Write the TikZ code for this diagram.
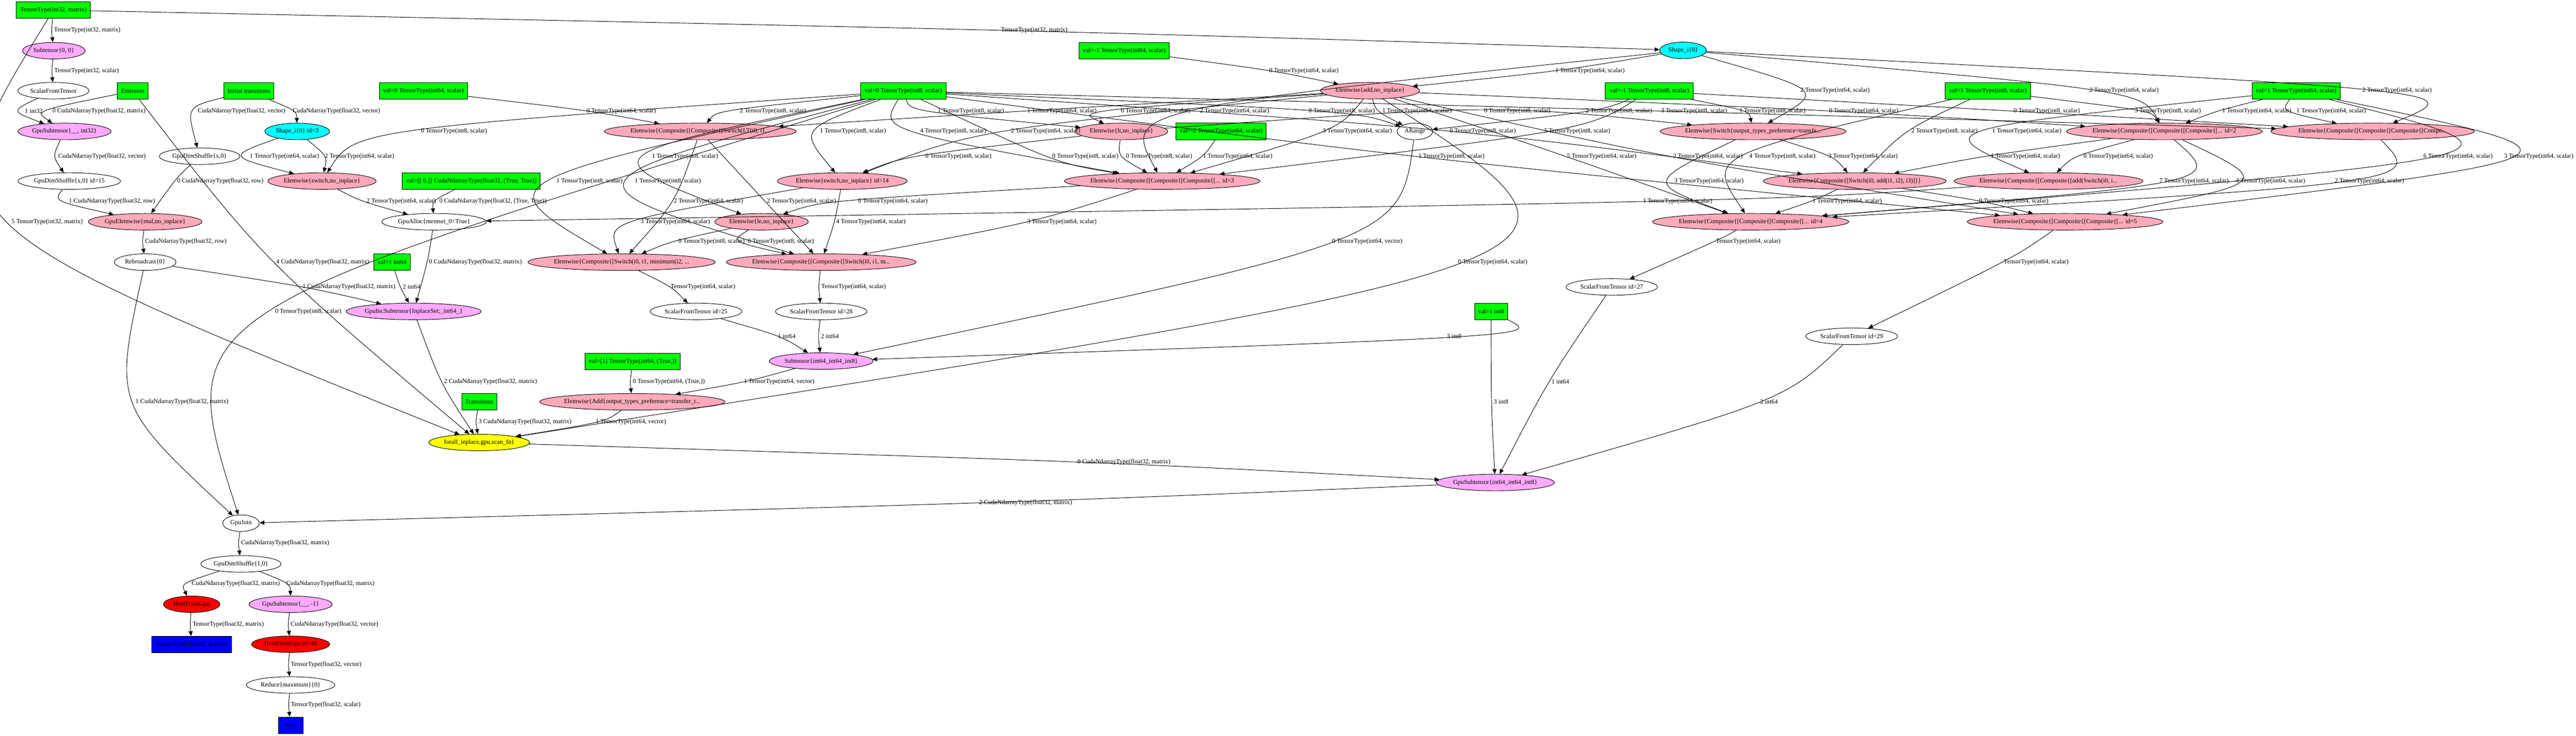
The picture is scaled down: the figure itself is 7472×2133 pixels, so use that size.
\documentclass[tikz,border=0pt]{standalone}
\usepackage{fontspec}
\setmainfont{Liberation Serif}
\usetikzlibrary{shapes.geometric,arrows.meta,calc}

\definecolor{inpgreen}{HTML}{00FF00}
\definecolor{elempink}{HTML}{FFAABB}
\definecolor{subviolet}{HTML}{FFAAFF}
\definecolor{shapecyan}{HTML}{00FFFF}
\definecolor{scanyellow}{HTML}{FFFF00}
\definecolor{gpured}{HTML}{FF0000}
\definecolor{outblue}{HTML}{0000FF}

\tikzset{
  every node/.style={font=\fontsize{5.2}{6}\selectfont},
  box/.style={draw, rectangle, minimum height=0.48cm, inner sep=1pt},
  op/.style={draw, ellipse, minimum height=0.48cm, inner sep=0pt,
    execute at begin node={\hbox to 0pt\bgroup\hss},
    execute at end node={\hss\egroup}},
  lbl/.style={inner sep=1.5pt},
}

% edge from #1 to #2, its label centred at #3, the curve passing just left of it
\newcounter{lk}
\newcommand\lnk[4]{%
  \stepcounter{lk}%
  \node[lbl] (lk\arabic{lk}) at (#3) {#4};
  \draw[->] (#1) .. controls ($1.3333*(lk\arabic{lk}.west)-0.1667*(#1)-0.1667*(#2)$) .. (#2);}

\begin{document}
\begin{tikzpicture}[x=0.01cm, y=-0.01cm, thin, >={Triangle[length=4pt, width=3.4pt]}]
\useasboundingbox (0,0) rectangle (7472,2133);
\fill[white] (0,0) rectangle (7472,2133);

% Inputs and constants
\node[box, fill=inpgreen, minimum width=2.15cm] (tti32) at (155,29) {TensorType(int32, matrix)};
\node[box, fill=inpgreen, minimum width=0.90cm] (emis) at (385,264) {Emission};
\node[box, fill=inpgreen, minimum width=1.44cm] (inittr) at (722,264) {Initial transitions};
\node[box, fill=inpgreen, minimum width=2.56cm] (zi64) at (1228,264) {val=0 TensorType(int64, scalar)};
\node[box, fill=inpgreen, minimum width=4.00cm] (zeromat) at (1367,525) {val=[[ 0.]] CudaNdarrayType(float32, (True, True))};
\node[box, fill=inpgreen, minimum width=2.48cm] (zi8) at (2620,264) {val=0 TensorType(int8, scalar)};
\node[box, fill=inpgreen, minimum width=2.62cm] (mi64) at (3261,147) {val=-1 TensorType(int64, scalar)};
\node[box, fill=inpgreen, minimum width=2.62cm] (m2i64) at (3542,381) {val=-2 TensorType(int64, scalar)};
\node[box, fill=inpgreen, minimum width=2.55cm] (mi8) at (4784,264) {val=-1 TensorType(int8, scalar)};
\node[box, fill=inpgreen, minimum width=2.47cm] (oi8) at (5766,264) {val=1 TensorType(int8, scalar)};
\node[box, fill=inpgreen, minimum width=2.56cm] (oi64) at (6660,264) {val=1 TensorType(int64, scalar)};
\node[box, fill=inpgreen, minimum width=1.06cm] (oneint64) at (1137,760) {val=1 int64};
\node[box, fill=inpgreen, minimum width=2.77cm] (onevec) at (1835,1048) {val=[1] TensorType(int64, (True,))};
\node[box, fill=inpgreen, minimum width=1.02cm] (trans) at (1390,1165) {Transitions};
\node[box, fill=inpgreen, minimum width=0.96cm] (oneint8) at (4325,903) {val=1 int8};

% Outputs
\node[box, fill=outblue, minimum width=2.32cm] (outmat) at (556,1869) {TensorType(float32, matrix)};
\node[box, fill=outblue, minimum width=0.72cm] (outmax) at (843,2103) {max};

% Subtensors
\node[op, fill=subviolet, minimum width=1.82cm] (sub00) at (156,147) {Subtensor\{0, 0\}};
\node[op, fill=subviolet, minimum width=2.70cm] (gpusub) at (187,381) {GpuSubtensor\{\_\_, int32\}};
\node[op, fill=subviolet, minimum width=3.91cm] (gpuinc) at (1200,903) {GpuIncSubtensor\{InplaceSet;\_int64\_\}};
\node[op, fill=subviolet, minimum width=3.01cm] (subi) at (2382,1047) {Subtensor\{int64\_int64\_int8\}};
\node[op, fill=subviolet, minimum width=3.43cm] (gpusubi) at (4337,1399) {GpuSubtensor\{int64\_int64\_int8\}};
\node[op, fill=subviolet, minimum width=2.41cm] (gpusubm) at (843,1752) {GpuSubtensor\{\_\_, -1\}};

% Shapes
\node[op, fill=shapecyan, minimum width=1.88cm] (shape3) at (862,381) {Shape\_i\{0\} id=3};
\node[op, fill=shapecyan, minimum width=1.36cm] (shape) at (4882,146) {Shape\_i\{0\}};

% Plain ops
\node[op, minimum width=2.06cm] (sft) at (155,263) {ScalarFromTensor};
\node[op, minimum width=2.34cm] (gds) at (579,453) {GpuDimShuffle\{x,0\}};
\node[op, minimum width=2.97cm] (gds15) at (201,525) {GpuDimShuffle\{x,0\} id=15};
\node[op, minimum width=3.03cm] (alloc) at (1259,643) {GpuAlloc\{memset\_0=True\}};
\node[op, minimum width=1.79cm] (rebro) at (421,760) {Rebroadcast\{0\}};
\node[op, minimum width=2.66cm] (sft25) at (2019,903) {ScalarFromTensor id=25};
\node[op, minimum width=2.65cm] (sft28) at (2382,903) {ScalarFromTensor id=28};
\node[op, minimum width=1.03cm] (arange) at (4104,381) {ARange};
\node[op, minimum width=2.65cm] (sft27) at (4675,832) {ScalarFromTensor id=27};
\node[op, minimum width=2.66cm] (sft29) at (5371,975) {ScalarFromTensor id=29};
\node[op, minimum width=1.06cm] (join) at (699,1517) {GpuJoin};
\node[op, minimum width=2.33cm] (gds10) at (699,1635) {GpuDimShuffle\{1,0\}};
\node[op, minimum width=2.56cm] (reduce) at (843,1986) {Reduce\{maximum\}\{0\}};

% Elemwise
\node[op, fill=elempink, minimum width=3.14cm] (eswitch) at (934,525) {Elemwise\{switch,no\_inplace\}};
\node[op, fill=elempink, minimum width=3.29cm] (emul) at (421,643) {GpuElemwise\{mul,no\_inplace\}};
\node[op, fill=elempink, minimum width=5.56cm] (ecLT) at (2031,381) {Elemwise\{Composite\{[Composite\{[Switch(LT(i0, i1...};
\node[op, fill=elempink, minimum width=3.76cm] (esw14) at (2443,525) {Elemwise\{switch,no\_inplace\} id=14};
\node[op, fill=elempink, minimum width=2.71cm] (ele) at (2209,643) {Elemwise\{le,no\_inplace\}};
\node[op, fill=elempink, minimum width=2.87cm] (eadd) at (3974,263) {Elemwise\{add,no\_inplace\}};
\node[op, fill=elempink, minimum width=2.68cm] (elt) at (3253,381) {Elemwise\{lt,no\_inplace\}};
\node[op, fill=elempink, minimum width=5.67cm] (ec3) at (3371,525) {Elemwise\{Composite\{[Composite\{[Composite\{[... id=3};
\node[op, fill=elempink, minimum width=5.39cm] (eswT) at (5085,381) {Elemwise\{Switch\{output\_types\_preference=transfe...};
\node[op, fill=elempink, minimum width=5.30cm] (ecSw) at (5380,525) {Elemwise\{Composite\{[Switch(i0, add(i1, i2), i3)]\}\}};
\node[op, fill=elempink, minimum width=5.47cm] (ecAdd) at (5942,525) {Elemwise\{Composite\{[Composite\{[add(Switch(i0, i...};
\node[op, fill=elempink, minimum width=5.69cm] (ec4) at (5078,643) {Elemwise\{Composite\{[Composite\{[Composite\{[... id=4};
\node[op, fill=elempink, minimum width=5.67cm] (ec5) at (5990,643) {Elemwise\{Composite\{[Composite\{[Composite\{[... id=5};
\node[op, fill=elempink, minimum width=5.68cm] (ec2) at (6278,381) {Elemwise\{Composite\{[Composite\{[Composite\{[... id=2};
\node[op, fill=elempink, minimum width=5.90cm] (ecCompo) at (6882,381) {Elemwise\{Composite\{[Composite\{[Composite\{[Compo...};
\node[op, fill=elempink, minimum width=5.43cm] (ecMin) at (1803,760) {Elemwise\{Composite\{[Switch(i0, i1, minimum(i2, ...};
\node[op, fill=elempink, minimum width=5.50cm] (ecM) at (2382,760) {Elemwise\{Composite\{[Composite\{[Switch(i0, i1, m...};
\node[op, fill=elempink, minimum width=5.37cm] (eAddO) at (1834,1165) {Elemwise\{Add\{output\_types\_preference=transfer\_t...};

% Host transfers and scan
\node[op, fill=gpured, minimum width=1.64cm] (hfg) at (556,1752) {HostFromGpu};
\node[op, fill=gpured, minimum width=2.27cm] (hfg40) at (843,1868) {HostFromGpu id=40};
\node[op, fill=scanyellow, minimum width=2.92cm] (scan) at (1390,1283) {forall\_inplace,gpu,scan\_fn\}};

% Left part
\lnk{tti32}{sub00}{253,88}{TensorType(int32, matrix)}
\lnk{tti32}{shape}{3000,88}{TensorType(int32, matrix)}
\lnk{tti32}{scan}{137,643}{5 TensorType(int32, matrix)}
\lnk{sub00}{sft}{251,205}{TensorType(int32, scalar)}
\lnk{sft}{gpusub}{98,322}{1 int32}
\lnk{emis}{gpusub}{287,322}{0 CudaNdarrayType(float32, matrix)}
\lnk{emis}{scan}{936,760}{4 CudaNdarrayType(float32, matrix)}
\lnk{inittr}{gds}{701,322}{CudaNdarrayType(float32, vector)}
\lnk{inittr}{shape3}{976,322}{CudaNdarrayType(float32, vector)}
\lnk{gpusub}{gds15}{296,453}{CudaNdarrayType(float32, vector)}
\lnk{shape3}{eswitch}{825,453}{1 TensorType(int64, scalar)}
\lnk{shape3}{eswitch}{1043,453}{2 TensorType(int64, scalar)}
\lnk{zi8}{eswitch}{1317,381}{0 TensorType(int8, scalar)}
\lnk{gds15}{emul}{325,583}{1 CudaNdarrayType(float32, row)}
\lnk{gds}{emul}{639,525}{0 CudaNdarrayType(float32, row)}
\lnk{eswitch}{alloc}{1164,583}{2 TensorType(int64, scalar)}
\lnk{zeromat}{alloc}{1430,583}{0 CudaNdarrayType(float32, (True, True))}
\lnk{ecAdd}{alloc}{4866,583}{1 TensorType(int64, scalar)}
\lnk{emul}{rebro}{539,700}{CudaNdarrayType(float32, row)}
\lnk{rebro}{gpuinc}{1012,832}{1 CudaNdarrayType(float32, matrix)}
\lnk{rebro}{join}{528,1165}{1 CudaNdarrayType(float32, matrix)}
\lnk{alloc}{gpuinc}{1379,760}{0 CudaNdarrayType(float32, matrix)}
\lnk{oneint64}{gpuinc}{1194,832}{2 int64}

% Into the scan
\lnk{gpuinc}{scan}{1423,1107}{2 CudaNdarrayType(float32, matrix)}
\lnk{trans}{scan}{1523,1223}{3 CudaNdarrayType(float32, matrix)}
\lnk{eAddO}{scan}{1830,1223}{1 TensorType(int64, vector)}
\lnk{eadd}{scan}{4330,760}{0 TensorType(int64, scalar)}
\lnk{zi8}{join}{894,903}{0 TensorType(int8, scalar)}

% Scan output
\lnk{scan}{gpusubi}{3260,1340}{0 CudaNdarrayType(float32, matrix)}
\lnk{gpusubi}{join}{2975,1458}{2 CudaNdarrayType(float32, matrix)}
\lnk{join}{gds10}{827,1575}{CudaNdarrayType(float32, matrix)}
\lnk{gds10}{hfg}{684,1693}{CudaNdarrayType(float32, matrix)}
\lnk{gds10}{gpusubm}{958,1693}{CudaNdarrayType(float32, matrix)}
\lnk{hfg}{outmat}{662,1811}{TensorType(float32, matrix)}
\lnk{gpusubm}{hfg40}{970,1811}{CudaNdarrayType(float32, vector)}
\lnk{hfg40}{reduce}{946,1927}{TensorType(float32, vector)}
\lnk{reduce}{outmax}{945,2044}{TensorType(float32, scalar)}

% Index computations
\lnk{onevec}{eAddO}{1940,1107}{0 TensorType(int64, (True,))}
\lnk{subi}{eAddO}{2260,1107}{1 TensorType(int64, vector)}
\lnk{sft25}{subi}{2282,975}{1 int64}
\lnk{sft28}{subi}{2407,975}{2 int64}
\lnk{ecMin}{sft25}{2039,832}{TensorType(int64, scalar)}
\lnk{ecM}{sft28}{2476,832}{TensorType(int64, scalar)}
\lnk{arange}{subi}{3966,700}{0 TensorType(int64, vector)}
\lnk{oneint8}{subi}{4218,975}{3 int8}
\lnk{oneint8}{gpusubi}{4354,1165}{3 int8}
\lnk{sft27}{gpusubi}{4526,1107}{1 int64}
\lnk{sft29}{gpusubi}{5131,1165}{2 int64}
\lnk{ec4}{sft27}{5071,700}{TensorType(int64, scalar)}
\lnk{ec5}{sft29}{5906,760}{TensorType(int64, scalar)}

% Scalar tangle
\lnk{mi64}{eadd}{3782,205}{0 TensorType(int64, scalar)}
\lnk{shape}{eadd}{4612,205}{1 TensorType(int64, scalar)}
\lnk{shape}{eswT}{5323,263}{2 TensorType(int64, scalar)}
\lnk{shape}{ec2}{6161,263}{2 TensorType(int64, scalar)}
\lnk{shape}{ecCompo}{6953,263}{2 TensorType(int64, scalar)}
\lnk{zi64}{ecLT}{1802,322}{0 TensorType(int64, scalar)}
\lnk{zi8}{ecLT}{2242,322}{2 TensorType(int8, scalar)}
\lnk{zi8}{elt}{2816,322}{1 TensorType(int8, scalar)}
\lnk{eadd}{ecLT}{3080,322}{1 TensorType(int64, scalar)}
\lnk{eadd}{elt}{3352,322}{0 TensorType(int64, scalar)}
\lnk{shape}{ec3}{3581,322}{2 TensorType(int64, scalar)}
\lnk{zi8}{arange}{3892,322}{0 TensorType(int8, scalar)}
\lnk{eadd}{arange}{4110,322}{1 TensorType(int64, scalar)}
\lnk{elt}{eswT}{4401,322}{0 TensorType(int8, scalar)}
\lnk{mi8}{arange}{4696,322}{2 TensorType(int8, scalar)}
\lnk{zi8}{ecCompo}{4914,322}{3 TensorType(int8, scalar)}
\lnk{mi8}{eswT}{5141,322}{1 TensorType(int8, scalar)}
\lnk{eadd}{ec2}{5406,322}{0 TensorType(int64, scalar)}
\lnk{mi8}{ecCompo}{5937,322}{0 TensorType(int8, scalar)}
\lnk{oi8}{ec2}{6288,322}{3 TensorType(int8, scalar)}
\lnk{oi64}{ec2}{6546,322}{1 TensorType(int64, scalar)}
\lnk{oi64}{ecCompo}{6762,322}{1 TensorType(int64, scalar)}
\lnk{zi8}{esw14}{2474,381}{1 TensorType(int8, scalar)}
\lnk{zi8}{ec3}{2765,381}{4 TensorType(int8, scalar)}
\lnk{eadd}{esw14}{3033,381}{2 TensorType(int64, scalar)}
\lnk{eadd}{ec3}{3937,381}{3 TensorType(int64, scalar)}
\lnk{zi8}{ecSw}{4301,381}{0 TensorType(int8, scalar)}
\lnk{mi8}{ec3}{4575,381}{5 TensorType(int8, scalar)}
\lnk{oi8}{ecSw}{5640,381}{2 TensorType(int8, scalar)}
\lnk{oi64}{ecAdd}{5879,381}{1 TensorType(int64, scalar)}
\lnk{zi8}{ele}{1987,453}{1 TensorType(int8, scalar)}
\lnk{elt}{esw14}{2780,453}{0 TensorType(int8, scalar)}
\lnk{zi8}{ec3}{3148,453}{0 TensorType(int8, scalar)}
\lnk{elt}{ec3}{3362,453}{0 TensorType(int8, scalar)}
\lnk{m2i64}{ec3}{3590,453}{1 TensorType(int64, scalar)}
\lnk{zi8}{ec5}{4210,453}{1 TensorType(int8, scalar)}
\lnk{eadd}{ec4}{4646,453}{5 TensorType(int64, scalar)}
\lnk{eadd}{ec5}{4954,453}{2 TensorType(int64, scalar)}
\lnk{oi8}{ec4}{5170,453}{4 TensorType(int8, scalar)}
\lnk{eswT}{ecSw}{5404,453}{3 TensorType(int64, scalar)}
\lnk{ec2}{ecSw}{5875,453}{1 TensorType(int64, scalar)}
\lnk{ec2}{ecAdd}{6144,453}{0 TensorType(int64, scalar)}
\lnk{oi64}{ec4}{7130,453}{6 TensorType(int64, scalar)}
\lnk{oi64}{ec5}{7364,453}{3 TensorType(int64, scalar)}
\lnk{zi8}{ecMin}{1710,525}{1 TensorType(int8, scalar)}
\lnk{zi8}{ecM}{1937,525}{1 TensorType(int8, scalar)}
\lnk{eswT}{ec4}{4957,525}{3 TensorType(int64, scalar)}
\lnk{ec2}{ec4}{6364,525}{7 TensorType(int64, scalar)}
\lnk{ec2}{ec5}{6586,525}{4 TensorType(int64, scalar)}
\lnk{ecCompo}{ec4}{6873,525}{2 TensorType(int64, scalar)}
\lnk{ecLT}{ecMin}{2055,583}{2 TensorType(int64, scalar)}
\lnk{ecLT}{ecM}{2325,583}{2 TensorType(int64, scalar)}
\lnk{ec3}{ele}{2590,583}{0 TensorType(int64, scalar)}
\lnk{ecSw}{ec4}{5358,583}{1 TensorType(int64, scalar)}
\lnk{ecSw}{ec5}{5841,583}{0 TensorType(int64, scalar)}
\lnk{esw14}{ecMin}{1959,643}{3 TensorType(int64, scalar)}
\lnk{esw14}{ecM}{2526,643}{4 TensorType(int64, scalar)}
\lnk{ec3}{ecM}{3080,643}{3 TensorType(int64, scalar)}
\lnk{ele}{ecMin}{2064,700}{0 TensorType(int8, scalar)}
\lnk{ele}{ecM}{2265,700}{0 TensorType(int8, scalar)}
\end{tikzpicture}
\end{document}
